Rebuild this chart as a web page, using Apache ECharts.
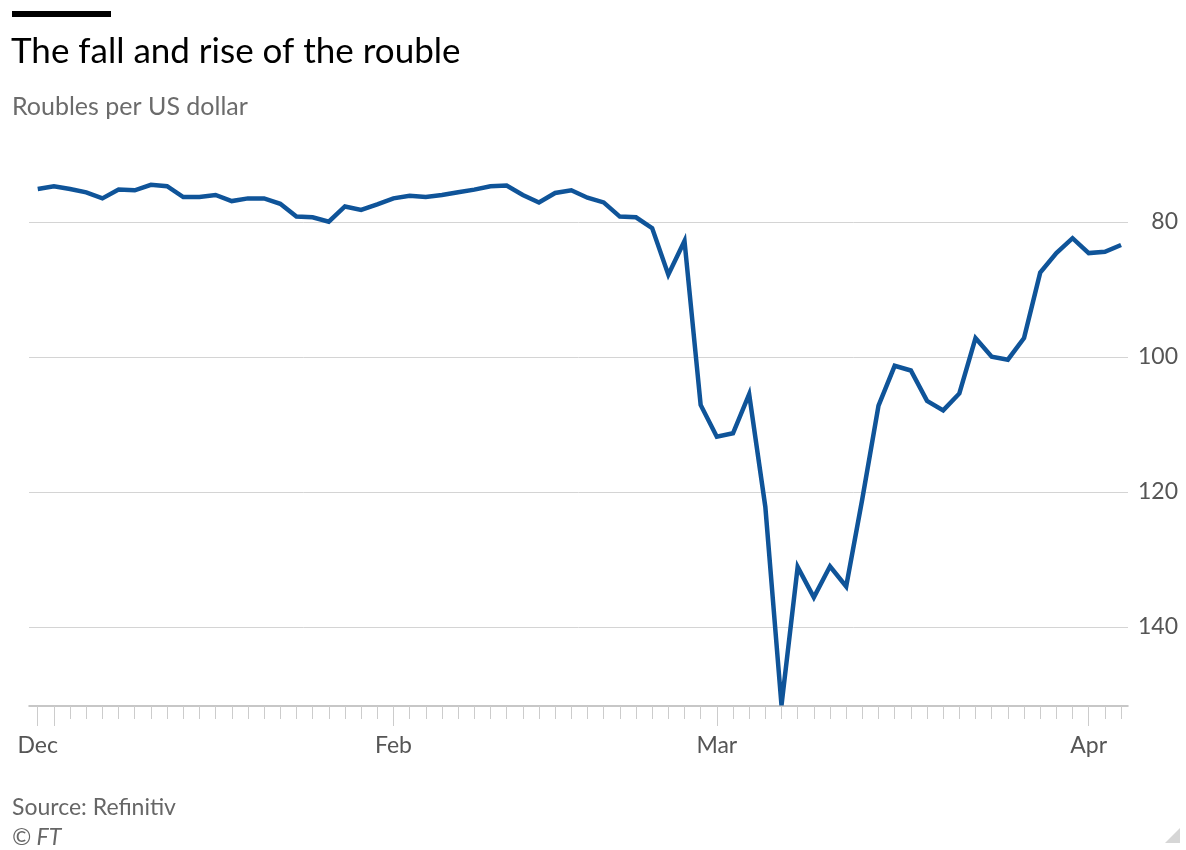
<!DOCTYPE html>
<html>
<head>
<meta charset="utf-8">
<script src="https://cdn.jsdelivr.net/npm/echarts@6/dist/echarts.min.js"></script>
<style>
  html, body { margin: 0; padding: 0; background: #fff; }
  #chart { width: 1186px; height: 850px; }
</style>
</head>
<body>
<div id="chart"></div>
<script>
// Roubles per US dollar, one value per observation (category index)
const roublesPerDollar = [
  75.1, 74.7, 75.1, 75.6, 76.5, 75.2, 75.3, 74.5, 74.7, 76.3,
  76.3, 76.0, 76.9, 76.5, 76.5, 77.3, 79.2, 79.3, 79.95, 77.7,
  78.2, 77.4, 76.5, 76.1, 76.3, 76.0, 75.6, 75.2, 74.7, 74.6,
  76.0, 77.1, 75.7, 75.3, 76.4, 77.1, 79.2, 79.3, 80.9, 87.8,
  82.8, 107.1, 111.8, 111.3, 105.5, 122.2, 151.6, 131.1, 135.6, 131.0,
  134.0, 121.0, 107.2, 101.3, 102.0, 106.5, 107.9, 105.4, 97.2, 99.95,
  100.4, 97.2, 87.5, 84.6, 82.4, 84.6, 84.4, 83.4
];
// Month labels and the observation index where each month starts
const monthLabels = ['Dec', 'Feb', 'Mar', 'Apr'];
const monthIndex = [0, 22, 42, 65];
const longTickIndex = [0, 1, 22, 42, 65];
const yTicks = [80, 100, 120, 140];

const FONT = 'Lato';
const allIdx = roublesPerDollar.map((_, i) => i);
const seriesData = roublesPerDollar.map((v, i) => [i, v]);

const chart = echarts.init(document.getElementById('chart'), null, { renderer: 'canvas' });
const xMin = -0.54, xMax = 67.43;

const option = {
  animation: false,
  backgroundColor: '#ffffff',
  textStyle: { fontFamily: FONT },
  grid: { left: 29, right: 58, top: 168, bottom: 144, containLabel: false },
  graphic: [
    { type: 'rect', left: 12, top: 11, shape: { width: 99, height: 6 }, style: { fill: '#000' } },
    { type: 'text', x: 11, y: 52, style: { text: 'The fall and rise of the rouble', font: '400 35px ' + FONT, fill: '#000', verticalAlign: 'middle' } },
    { type: 'text', x: 12, y: 107, style: { text: 'Roubles per US dollar', font: '400 25px ' + FONT, fill: '#6b6b6b', verticalAlign: 'middle' } },
    { type: 'text', x: 12, y: 808, style: { text: 'Source: Refinitiv', font: '400 23px ' + FONT, fill: '#666', verticalAlign: 'middle' } },
    { type: 'text', x: 12, y: 838, style: { text: '© FT', font: 'italic 400 23px ' + FONT, fill: '#666', verticalAlign: 'middle' } },
    { type: 'polygon', shape: { points: [[1180, 828], [1180, 843], [1165, 843]] }, style: { fill: '#d6d6d6' } }
  ],
  xAxis: [
    {
      type: 'value', min: xMin, max: xMax, position: 'bottom',
      axisLine: { show: true, onZero: false, lineStyle: { color: '#b5b5b5', width: 1.5 } },
      axisTick: { show: true, customValues: allIdx, length: 13, lineStyle: { color: '#cccccc', width: 1 } },
      axisLabel: { show: false },
      splitLine: { show: false }
    },
    {
      type: 'value', min: xMin, max: xMax, position: 'bottom',
      axisLine: { show: false, onZero: false },
      axisTick: { show: true, customValues: longTickIndex, length: 20, lineStyle: { color: '#cccccc', width: 1 } },
      axisLabel: {
        show: true, customValues: monthIndex, margin: 28,
        fontFamily: FONT, fontSize: 23, color: '#555',
        formatter: function (v) { const k = monthIndex.indexOf(Math.round(v)); return k >= 0 ? monthLabels[k] : ''; }
      },
      splitLine: { show: false }
    }
  ],
  yAxis: {
    type: 'value', inverse: true, min: 72, max: 151.7, position: 'right',
    axisLine: { show: false }, axisTick: { show: false }, splitLine: { show: false },
    axisLabel: { show: true, customValues: yTicks, align: 'right', margin: 50, padding: [4, 0, 0, 0], fontFamily: FONT, fontSize: 23, color: '#555' }
  },
  series: [
    {
      type: 'line', xAxisIndex: 0, data: seriesData, z: 1, silent: true,
      showSymbol: false, lineStyle: { opacity: 0 },
      markLine: {
        silent: true, symbol: ['none', 'none'], label: { show: false },
        lineStyle: { color: '#d4d4d4', width: 1, type: 'solid' },
        data: yTicks.map(v => ({ yAxis: v }))
      }
    },
    {
      type: 'line', xAxisIndex: 0, data: seriesData, z: 5,
      showSymbol: false, symbol: 'none',
      lineStyle: { color: '#0f5499', width: 4.5, join: 'miter' }
    }
  ]
};
chart.setOption(option);
</script>
</body>
</html>
